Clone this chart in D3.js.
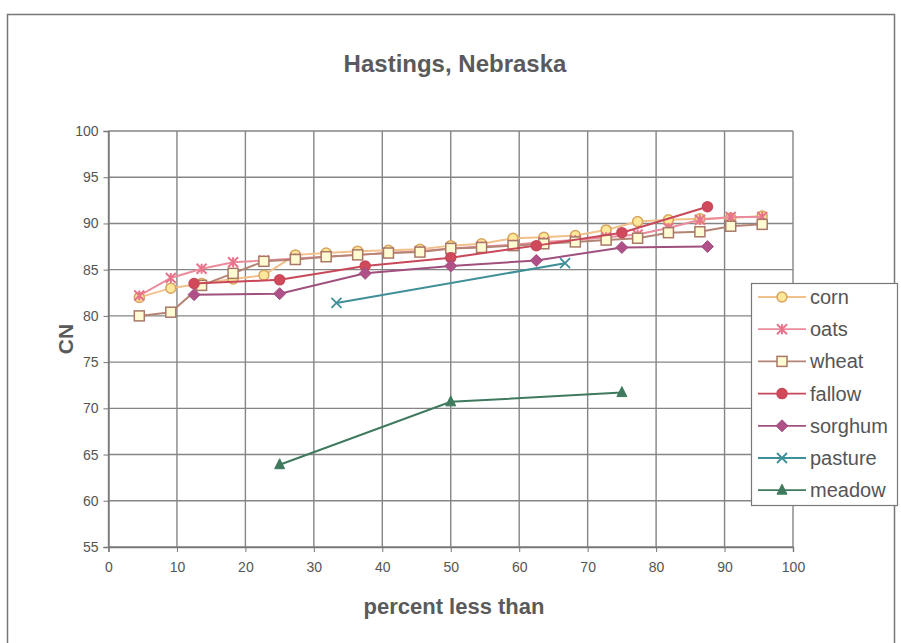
<!DOCTYPE html>
<html><head><meta charset="utf-8">
<script src="https://cdn.jsdelivr.net/npm/d3@7"></script>
<style>body{margin:0;background:#fff;} svg{display:block;font-family:"Liberation Sans",Arial,sans-serif;}</style>
</head><body>
<svg id="c" width="901" height="643"></svg>
<script>
// ---- data ----
const title = "Hastings, Nebraska";
const xLabel = "percent less than";
const yLabel = "CN";
const xTicks = [0,10,20,30,40,50,60,70,80,90,100];
const yTicks = [55,60,65,70,75,80,85,90,95,100];
const seriesNames = ["corn","oats","wheat","fallow","sorghum","pasture","meadow"];
const x21 = [4.5,9.1,13.6,18.2,22.7,27.3,31.8,36.4,40.9,45.5,50.0,54.5,59.1,63.6,68.2,72.7,77.3,81.8,86.4,90.9,95.5];
const x7 = [12.5,25,37.5,50,62.5,75,87.5];
const x3 = [25,50,75];
const x2 = [33.3,66.7];
const corn = [82.0,83.0,83.5,84.0,84.4,86.6,86.8,87.0,87.1,87.2,87.6,87.8,88.4,88.5,88.7,89.3,90.2,90.4,90.5,90.6,90.8];
const oats = [82.2,84.1,85.1,85.8,86.0,86.2,86.4,86.6,86.8,87.0,87.3,87.5,87.7,88.0,88.2,88.5,88.8,89.5,90.4,90.7,90.7];
const wheat = [80.0,80.4,83.3,84.6,85.9,86.1,86.4,86.6,86.8,86.9,87.3,87.4,87.6,87.8,88.0,88.2,88.4,89.0,89.1,89.7,89.9];
const fallow = [83.5,83.9,85.4,86.3,87.6,89.0,91.8];
const sorghum = [82.3,82.4,84.6,85.4,86.0,87.4,87.5];
const pasture = [81.4,85.7];
const meadow = [63.9,70.7,71.7];

const series = [
  {name:"corn", xs:x21, ys:corn, line:"#f2c08a", fill:"#fde79a", stroke:"#d7a45e", sym:"circle"},
  {name:"oats", xs:x21, ys:oats, line:"#ea8c9c", fill:"#e8748c", stroke:"#e8748c", sym:"star"},
  {name:"wheat", xs:x21, ys:wheat, line:"#b48474", fill:"#fffbd2", stroke:"#a87868", sym:"square"},
  {name:"fallow", xs:x7, ys:fallow, line:"#c8485a", fill:"#d04a5c", stroke:"#c8485a", sym:"circle"},
  {name:"sorghum", xs:x7, ys:sorghum, line:"#a0507e", fill:"#b05088", stroke:"#a0507e", sym:"diamond"},
  {name:"pasture", xs:x2, ys:pasture, line:"#3f8f98", fill:"none", stroke:"#3f8f98", sym:"x"},
  {name:"meadow", xs:x3, ys:meadow, line:"#3f7a5e", fill:"#3f7a5e", stroke:"#3f7a5e", sym:"triangle"}
];

const svg = d3.select("#c");
const L=108.5, R=793, T=131, B=547;
const x = d3.scaleLinear().domain([0,100]).range([L,R]);
const y = d3.scaleLinear().domain([55,100]).range([B,T]);

// outer frame
svg.append("rect").attr("x",7.5).attr("y",14.5).attr("width",887).attr("height",640)
  .attr("fill","none").attr("stroke","#777").attr("stroke-width",1.5);

// grid
const g = svg.append("g");
g.selectAll(".vg").data(xTicks).join("line").attr("x1",d=>x(d)).attr("x2",d=>x(d))
  .attr("y1",T).attr("y2",B).attr("stroke","#858585").attr("stroke-width",1.4);
g.selectAll(".hg").data(yTicks).join("line").attr("y1",d=>y(d)).attr("y2",d=>y(d))
  .attr("x1",L).attr("x2",R).attr("stroke","#858585").attr("stroke-width",1.4);

// axes
const xa = svg.append("g").attr("transform",`translate(0,${B})`)
  .call(d3.axisBottom(x).tickValues(xTicks).tickSize(5).tickPadding(10));
const ya = svg.append("g").attr("transform",`translate(${L},0)`)
  .call(d3.axisLeft(y).tickValues(yTicks).tickSize(5).tickPadding(5));
[xa,ya].forEach(a=>{
  a.select(".domain").attr("stroke","#777").attr("stroke-width",1.4);
  a.selectAll(".tick line").attr("stroke","#777");
  a.selectAll("text").attr("fill","#555").attr("font-size",14).attr("font-family","Liberation Sans, Arial, sans-serif");
});

// titles
svg.append("text").attr("x",455).attr("y",72).attr("text-anchor","middle")
  .attr("font-size",24).attr("font-weight","bold").attr("fill","#5a5a5a").text(title);
svg.append("text").attr("x",454).attr("y",614).attr("text-anchor","middle")
  .attr("font-size",22).attr("font-weight","bold").attr("fill","#5a5a5a").text(xLabel);
svg.append("text").attr("transform","translate(73,339) rotate(-90)").attr("text-anchor","middle")
  .attr("font-size",21).attr("font-weight","bold").attr("fill","#5a5a5a").text(yLabel);

function drawMarker(sel, s, cx, cy, size){
  const r = size;
  if(s.sym==="circle"){
    sel.append("circle").attr("cx",cx).attr("cy",cy).attr("r",r).attr("fill",s.fill).attr("stroke",s.stroke).attr("stroke-width",1.5);
  } else if(s.sym==="square"){
    sel.append("rect").attr("x",cx-r).attr("y",cy-r).attr("width",2*r).attr("height",2*r).attr("fill",s.fill).attr("stroke",s.stroke).attr("stroke-width",1.5);
  } else if(s.sym==="diamond"){
    sel.append("path").attr("d",`M${cx},${cy-r-1}L${cx+r+1},${cy}L${cx},${cy+r+1}L${cx-r-1},${cy}Z`).attr("fill",s.fill).attr("stroke",s.stroke);
  } else if(s.sym==="triangle"){
    sel.append("path").attr("d",`M${cx},${cy-r-1}L${cx+r},${cy+r-1}L${cx-r},${cy+r-1}Z`).attr("fill",s.fill).attr("stroke",s.stroke);
  } else if(s.sym==="x"){
    sel.append("path").attr("d",`M${cx-r},${cy-r}L${cx+r},${cy+r}M${cx-r},${cy+r}L${cx+r},${cy-r}`).attr("stroke",s.stroke).attr("stroke-width",1.8).attr("fill","none");
  } else if(s.sym==="star"){
    sel.append("path").attr("d",`M${cx-r},${cy-r}L${cx+r},${cy+r}M${cx-r},${cy+r}L${cx+r},${cy-r}M${cx},${cy-r}L${cx},${cy+r}`).attr("stroke",s.stroke).attr("stroke-width",2).attr("fill","none");
  }
}

// series
const line = d3.line().x(d=>x(d[0])).y(d=>y(d[1]));
series.forEach(s=>{
  const pts = s.xs.map((v,i)=>[v,s.ys[i]]);
  const gg = svg.append("g");
  gg.append("path").attr("d",line(pts)).attr("fill","none").attr("stroke",s.line).attr("stroke-width",2);
  pts.forEach(p=>drawMarker(gg,s,x(p[0]),y(p[1]),5));
});

// legend
const lg = svg.append("g");
lg.append("rect").attr("x",751.5).attr("y",283.5).attr("width",146).attr("height",222)
  .attr("fill","#fff").attr("stroke","#777").attr("stroke-width",1.2);
series.forEach((s,i)=>{
  const yy = 297 + i*32.2;
  lg.append("line").attr("x1",758).attr("x2",806).attr("y1",yy).attr("y2",yy).attr("stroke",s.line).attr("stroke-width",1.8);
  drawMarker(lg,s,782,yy,5);
  lg.append("text").attr("x",810).attr("y",yy+7).attr("font-size",20).attr("fill","#555").text(s.name);
});
</script>
</body></html>
